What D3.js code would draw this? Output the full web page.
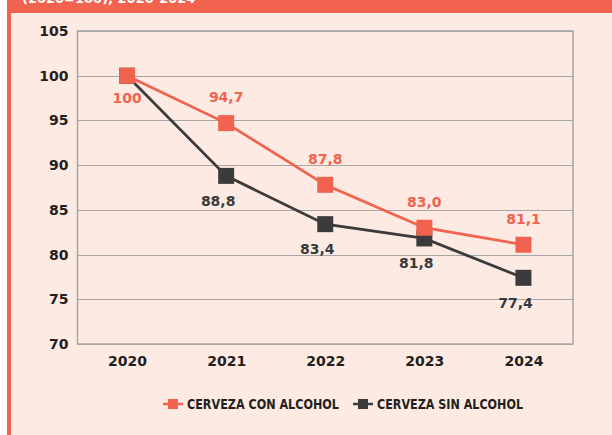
<!DOCTYPE html>
<html>
<head>
<meta charset="utf-8">
<script src="https://cdn.jsdelivr.net/npm/d3@7"></script>
<style>
  html, body { margin: 0; padding: 0; background: #ffffff; }
  svg { display: block; }
</style>
</head>
<body>
<div id="chart"></div>
<script>
// Índice de consumo de cerveza (2020=100)
const years = ["2020", "2021", "2022", "2023", "2024"];
const conAlcohol = [100, 94.7, 87.8, 83.0, 81.1];
const sinAlcohol = [100, 88.8, 83.4, 81.8, 77.4];
const yTicks = [70, 75, 80, 85, 90, 95, 100, 105];
const seriesNames = ["CERVEZA CON ALCOHOL", "CERVEZA SIN ALCOHOL"];
const headerText = "(2020=100), 2020-2024";

const config = {
  width: 612,
  height: 435,
  plot: { left: 77.5, right: 573, top: 31, bottom: 344 },
  colors: {
    coral: "#f2634f",
    dark: "#3b3b3c",
    bg: "#fdebe3",
    grid: "#a6a6a6",
    text: "#231f20"
  },
  font: "'DejaVu Sans', 'Liberation Sans', Arial, sans-serif",
  narrow: "'DejaVu Sans Condensed', 'DejaVu Sans', sans-serif"
};

const svg = d3.select("#chart").append("svg")
  .attr("width", config.width)
  .attr("height", config.height);

// panel background, header band and left border
svg.append("rect")
  .attr("x", 7).attr("y", 0)
  .attr("width", config.width - 7).attr("height", config.height)
  .attr("fill", config.colors.bg);

svg.append("rect")
  .attr("x", 7).attr("y", 0)
  .attr("width", config.width - 7).attr("height", 13)
  .attr("fill", config.colors.coral);

svg.append("rect")
  .attr("x", 7).attr("y", 0)
  .attr("width", 4).attr("height", config.height)
  .attr("fill", config.colors.coral);

svg.append("text")
  .attr("x", 22).attr("y", 3)
  .attr("fill", "#ffffff")
  .style("font-family", config.font)
  .style("font-weight", "bold")
  .style("font-size", "13px")
  .text(headerText);

// scales
const x = d3.scalePoint()
  .domain(years)
  .range([config.plot.left, config.plot.right])
  .padding(0.5);

const y = d3.scaleLinear()
  .domain([70, 105])
  .range([config.plot.bottom, config.plot.top]);

// grid lines
svg.append("g")
  .selectAll("line")
  .data(yTicks)
  .join("line")
  .attr("x1", config.plot.left)
  .attr("x2", config.plot.right)
  .attr("y1", d => Math.round(y(d)) + 0.5)
  .attr("y2", d => Math.round(y(d)) + 0.5)
  .attr("stroke", config.colors.grid)
  .attr("stroke-width", 1.2);

// plot frame
svg.append("rect")
  .attr("x", config.plot.left)
  .attr("y", y(105))
  .attr("width", config.plot.right - config.plot.left)
  .attr("height", y(70) - y(105))
  .attr("fill", "none")
  .attr("stroke", config.colors.grid)
  .attr("stroke-width", 1.5);

// y axis labels
const yAxis = svg.append("g")
  .attr("transform", `translate(${config.plot.left - 9},0)`)
  .call(d3.axisLeft(y).tickValues(yTicks).tickSize(0).tickPadding(0));
yAxis.select(".domain").remove();
yAxis.selectAll("text")
  .attr("fill", config.colors.text)
  .style("font-family", config.font)
  .style("font-weight", "bold")
  .style("font-size", "14px");

// x axis labels
const xAxis = svg.append("g")
  .attr("transform", `translate(0,${config.plot.bottom + 12})`)
  .call(d3.axisBottom(x).tickSize(0).tickPadding(0));
xAxis.select(".domain").remove();
xAxis.selectAll("text")
  .attr("fill", config.colors.text)
  .style("font-family", config.font)
  .style("font-weight", "bold")
  .style("font-size", "14px");

// series
const series = [
  { name: seriesNames[1], values: sinAlcohol, color: config.colors.dark, labelDy: 30, labelDx: -8 },
  { name: seriesNames[0], values: conAlcohol, color: config.colors.coral, labelDy: -21, labelDx: 0 }
];

const line = d3.line()
  .x((d, i) => x(years[i]))
  .y(d => y(d));

const fmt = v => v === 100 ? "100" : d3.format(".1f")(v).replace(".", ",");

series.forEach(s => {
  const g = svg.append("g");
  g.append("path")
    .datum(s.values)
    .attr("d", line)
    .attr("fill", "none")
    .attr("stroke", s.color)
    .attr("stroke-width", 2.8);

  g.selectAll("rect")
    .data(s.values)
    .join("rect")
    .attr("x", (d, i) => x(years[i]) - 8)
    .attr("y", d => y(d) - 8)
    .attr("width", 16)
    .attr("height", 16)
    .attr("fill", s.color);
});

// data labels (drawn after markers)
series.forEach(s => {
  svg.append("g")
    .selectAll("text")
    .data(s.values)
    .join("text")
    .attr("x", (d, i) => x(years[i]) + (i === 0 ? 0 : s.labelDx))
    .attr("y", (d, i) => y(d) + (i === 0 && s.color === config.colors.coral ? 27 : s.labelDy))
    .attr("text-anchor", "middle")
    .attr("fill", s.color)
    .style("font-family", config.font)
    .style("font-weight", "bold")
    .style("font-size", "14px")
    .text((d, i) => (i === 0 && s.color === config.colors.dark) ? "" : fmt(d));
});

// legend
const legendItems = [
  { label: seriesNames[0], color: config.colors.coral, x: 163, width: 152 },
  { label: seriesNames[1], color: config.colors.dark, x: 353, width: 146 }
];

const legend = svg.append("g").attr("transform", "translate(0,404)");
legendItems.forEach(d => {
  const row = legend.append("g").attr("transform", `translate(${d.x},0)`);
  row.append("line")
    .attr("x1", 0).attr("x2", 20)
    .attr("y1", 0).attr("y2", 0)
    .attr("stroke", d.color)
    .attr("stroke-width", 2.5);
  row.append("rect")
    .attr("x", 5).attr("y", -5)
    .attr("width", 10).attr("height", 10)
    .attr("fill", d.color);
  row.append("text")
    .attr("x", 24).attr("y", 5)
    .attr("fill", config.colors.text)
    .attr("textLength", d.width)
    .attr("lengthAdjust", "spacingAndGlyphs")
    .style("font-family", config.narrow)
    .style("font-weight", "bold")
    .style("font-size", "13.5px")
    .text(d.label);
});
</script>
</body>
</html>
